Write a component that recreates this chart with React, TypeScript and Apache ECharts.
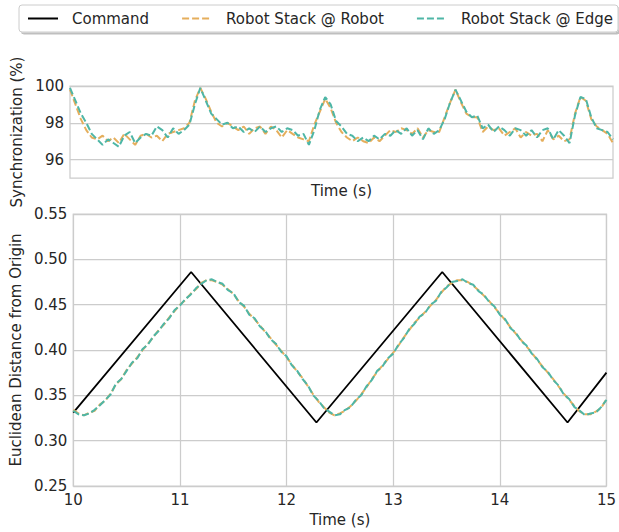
import React, { useEffect, useRef } from "react";
import * as echarts from "echarts";

// Sample grid for the robot-stack traces (seconds)
const startTime = 10;
const sampleStep = 0.05;

// Command trajectory (vertices of the triangle wave)
const commandTimes = [10, 11.105, 12.28, 13.46, 14.635, 15];
const commandValues = [0.331, 0.486, 0.32, 0.486, 0.32, 0.375];

// Euclidean distance from origin
const distRobot = [
  0.334, 0.330, 0.328, 0.331, 0.333, 0.340, 0.344, 0.352, 0.362, 0.368,
  0.378, 0.385, 0.392, 0.400, 0.407, 0.414, 0.422, 0.428, 0.436, 0.443,
  0.450, 0.455, 0.462, 0.467, 0.474, 0.477, 0.477, 0.475, 0.472, 0.467,
  0.462, 0.454, 0.448, 0.440, 0.434, 0.427, 0.420, 0.413, 0.406, 0.399,
  0.392, 0.384, 0.376, 0.369, 0.360, 0.351, 0.343, 0.337, 0.331, 0.328,
  0.330, 0.333, 0.338, 0.344, 0.351, 0.359, 0.368, 0.376, 0.383, 0.390,
  0.397, 0.405, 0.414, 0.422, 0.430, 0.436, 0.442, 0.449, 0.455, 0.463,
  0.470, 0.474, 0.477, 0.477, 0.475, 0.471, 0.466, 0.460, 0.454, 0.447,
  0.440, 0.433, 0.425, 0.418, 0.411, 0.404, 0.397, 0.389, 0.382, 0.375,
  0.368, 0.360, 0.352, 0.345, 0.338, 0.332, 0.329, 0.329, 0.332, 0.336, 0.346,
];
const distEdge = [
  0.333, 0.329, 0.328, 0.330, 0.334, 0.339, 0.345, 0.351, 0.363, 0.368,
  0.377, 0.386, 0.391, 0.401, 0.406, 0.415, 0.421, 0.429, 0.435, 0.444,
  0.449, 0.456, 0.461, 0.468, 0.473, 0.477, 0.478, 0.475, 0.473, 0.466,
  0.463, 0.453, 0.449, 0.439, 0.435, 0.426, 0.421, 0.412, 0.407, 0.398,
  0.393, 0.383, 0.377, 0.368, 0.361, 0.350, 0.344, 0.336, 0.332, 0.328,
  0.329, 0.334, 0.337, 0.345, 0.350, 0.360, 0.367, 0.377, 0.382, 0.391,
  0.396, 0.406, 0.413, 0.423, 0.429, 0.437, 0.441, 0.450, 0.454, 0.464,
  0.469, 0.475, 0.476, 0.478, 0.474, 0.472, 0.465, 0.461, 0.453, 0.448,
  0.439, 0.434, 0.424, 0.419, 0.410, 0.405, 0.396, 0.390, 0.381, 0.376,
  0.367, 0.361, 0.351, 0.346, 0.337, 0.333, 0.328, 0.330, 0.331, 0.337, 0.345,
];

// Synchronization (%)
const syncRobot = [
  99.8, 99.0, 98.2, 97.6, 97.2, 97.1, 97.3, 97.0, 97.2, 96.9,
  97.4, 97.1, 96.8, 97.3, 97.4, 97.2, 97.3, 97.0, 97.4, 97.5,
  97.6, 97.7, 98.0, 99.2, 99.9, 99.3, 98.6, 98.0, 97.8, 98.0,
  97.8, 97.6, 97.8, 97.4, 97.7, 97.8, 97.4, 97.8, 97.6, 97.2,
  97.6, 97.4, 97.2, 97.1, 97.0, 97.9, 98.6, 99.3, 98.8, 98.0,
  97.5, 97.2, 97.0, 97.2, 97.0, 96.9, 97.2, 97.0, 97.3, 97.6,
  97.5, 97.7, 97.6, 97.4, 97.7, 97.2, 97.6, 97.5, 97.5, 98.3,
  99.1, 99.8, 99.1, 98.5, 98.3, 98.3, 97.5, 97.8, 97.6, 97.7,
  97.3, 97.5, 97.7, 97.2, 97.5, 97.3, 97.4, 97.0, 97.6, 97.1,
  97.3, 97.0, 97.1, 98.5, 99.4, 99.2, 98.2, 97.8, 97.6, 97.4, 96.9,
];
const syncEdge = [
  99.9, 99.2, 98.5, 98.0, 97.4, 97.1, 96.8, 97.1, 96.9, 96.7,
  97.3, 97.5, 96.9, 97.2, 97.4, 97.3, 97.8, 97.6, 97.2, 97.7,
  97.4, 97.6, 97.9, 99.0, 99.9, 99.2, 98.5, 98.2, 97.9, 98.0,
  97.7, 97.8, 97.5, 97.7, 97.5, 97.8, 97.5, 97.7, 97.8, 97.5,
  97.7, 97.6, 97.3, 97.4, 96.8, 97.6, 98.7, 99.4, 99.0, 98.1,
  97.8, 97.4, 97.3, 97.0, 97.2, 97.0, 97.3, 97.1, 97.4, 97.3,
  97.6, 97.4, 97.7, 97.3, 97.6, 97.1, 97.7, 97.4, 97.6, 98.2,
  99.1, 99.8, 99.2, 98.6, 98.3, 98.4, 97.7, 97.9, 97.5, 97.8,
  97.6, 97.3, 97.7, 97.6, 97.3, 97.6, 97.2, 97.6, 97.7, 97.1,
  97.6, 97.3, 96.9, 98.4, 99.4, 99.3, 98.3, 97.7, 97.6, 97.5, 97.1,
];

const seriesNames = ["Command", "Robot Stack @ Robot", "Robot Stack @ Edge"];
const colors = ["#000000", "#e5ae5c", "#4eb6a6"];

const TEXT = "#262626";
const GRIDC = "#cccccc";
const FONT = "DejaVu Sans";
const FS = 15;

function pairs(values: number[]) {
  return values.map((v, i) => [+(startTime + i * sampleStep).toFixed(3), v]);
}

export default function App() {
  const ref = useRef<HTMLDivElement>(null);
  useEffect(() => {
    if (!ref.current) return;
    const chart = echarts.init(ref.current, undefined, { renderer: "svg" });
    const dashed = [7, 3];
    const nameStyle = { fontSize: FS, color: TEXT, fontFamily: FONT };
    chart.setOption({
      animation: false,
      backgroundColor: "#ffffff",
      textStyle: { fontFamily: FONT, color: TEXT },
      legend: {
        left: 19,
        top: 5,
        itemWidth: 30,
        itemHeight: 14,
        itemGap: 32,
        padding: [6, 5, 6, 8],
        borderColor: GRIDC,
        borderWidth: 1,
        borderRadius: 3,
        backgroundColor: "#ffffff",
        shadowColor: "rgba(0,0,0,0.25)",
        shadowBlur: 0,
        shadowOffsetX: 2,
        shadowOffsetY: 2,
        itemStyle: { opacity: 0 },
        textStyle: { fontSize: FS, color: TEXT, fontFamily: FONT, padding: [0, 0, 0, 9] },
        data: seriesNames,
      },
      grid: [
        { left: 70, right: 6, top: 86, height: 92, show: true, borderColor: GRIDC, borderWidth: 1.25 },
        { left: 70, right: 6, top: 214, height: 275, show: true, borderColor: GRIDC, borderWidth: 1.25 },
      ],
      xAxis: [
        {
          gridIndex: 0, type: "value", min: 10, max: 15, interval: 1,
          axisLine: { show: false }, axisTick: { show: false },
          axisLabel: { show: false }, splitLine: { show: false },
          name: "Time (s)", nameLocation: "middle", nameGap: 5,
          nameTextStyle: nameStyle,
        },
        {
          gridIndex: 1, type: "value", min: 10, max: 15, interval: 1,
          axisLine: { show: false }, axisTick: { show: false },
          axisLabel: { fontSize: FS, color: TEXT, fontFamily: FONT, margin: 6 },
          splitLine: { show: true, lineStyle: { color: GRIDC, width: 1.25 } },
          name: "Time (s)", nameLocation: "middle", nameGap: 26,
          nameTextStyle: nameStyle,
        },
      ],
      yAxis: [
        {
          gridIndex: 0, type: "value", min: 95, max: 100, interval: 1,
          axisLine: { show: false }, axisTick: { show: false },
          axisLabel: {
            fontSize: FS, color: TEXT, fontFamily: FONT, margin: 6,
            formatter: (v: number) => (Math.round(v) % 2 === 0 ? String(Math.round(v)) : ""),
          },
          splitLine: { show: true, lineStyle: { color: ["rgba(0,0,0,0)", GRIDC], width: 1.25 } },
          name: "Synchronization (%)", nameLocation: "middle", nameGap: 46,
          nameTextStyle: nameStyle,
        },
        {
          gridIndex: 1, type: "value", min: 0.25, max: 0.55, interval: 0.05,
          axisLine: { show: false }, axisTick: { show: false },
          axisLabel: {
            fontSize: FS, color: TEXT, fontFamily: FONT, margin: 6,
            formatter: (v: number) => v.toFixed(2),
          },
          splitLine: { show: true, lineStyle: { color: GRIDC, width: 1.25 } },
          name: "Euclidean Distance from Origin", nameLocation: "middle", nameGap: 46,
          nameTextStyle: nameStyle,
        },
      ],
      series: [
        {
          name: seriesNames[1], type: "line", xAxisIndex: 0, yAxisIndex: 0,
          data: pairs(syncRobot), symbol: "none", color: colors[1],
          lineStyle: { color: colors[1], width: 2, type: dashed },
        },
        {
          name: seriesNames[2], type: "line", xAxisIndex: 0, yAxisIndex: 0,
          data: pairs(syncEdge), symbol: "none", color: colors[2],
          lineStyle: { color: colors[2], width: 2, type: dashed },
        },
        {
          name: seriesNames[0], type: "line", xAxisIndex: 1, yAxisIndex: 1,
          data: commandTimes.map((t, i) => [t, commandValues[i]]), symbol: "none", color: colors[0],
          lineStyle: { color: colors[0], width: 1.8, type: "solid" },
        },
        {
          name: seriesNames[1], type: "line", xAxisIndex: 1, yAxisIndex: 1,
          data: pairs(distRobot), symbol: "none", color: colors[1],
          lineStyle: { color: colors[1], width: 2, type: dashed },
        },
        {
          name: seriesNames[2], type: "line", xAxisIndex: 1, yAxisIndex: 1,
          data: pairs(distEdge), symbol: "none", color: colors[2],
          lineStyle: { color: colors[2], width: 2, type: dashed },
        },
      ],
    });
    return () => chart.dispose();
  }, []);
  return (
    <div
      ref={ref}
      style={{ position: "fixed", left: 0, top: 0, width: 619, height: 532 }}
    />
  );
}
